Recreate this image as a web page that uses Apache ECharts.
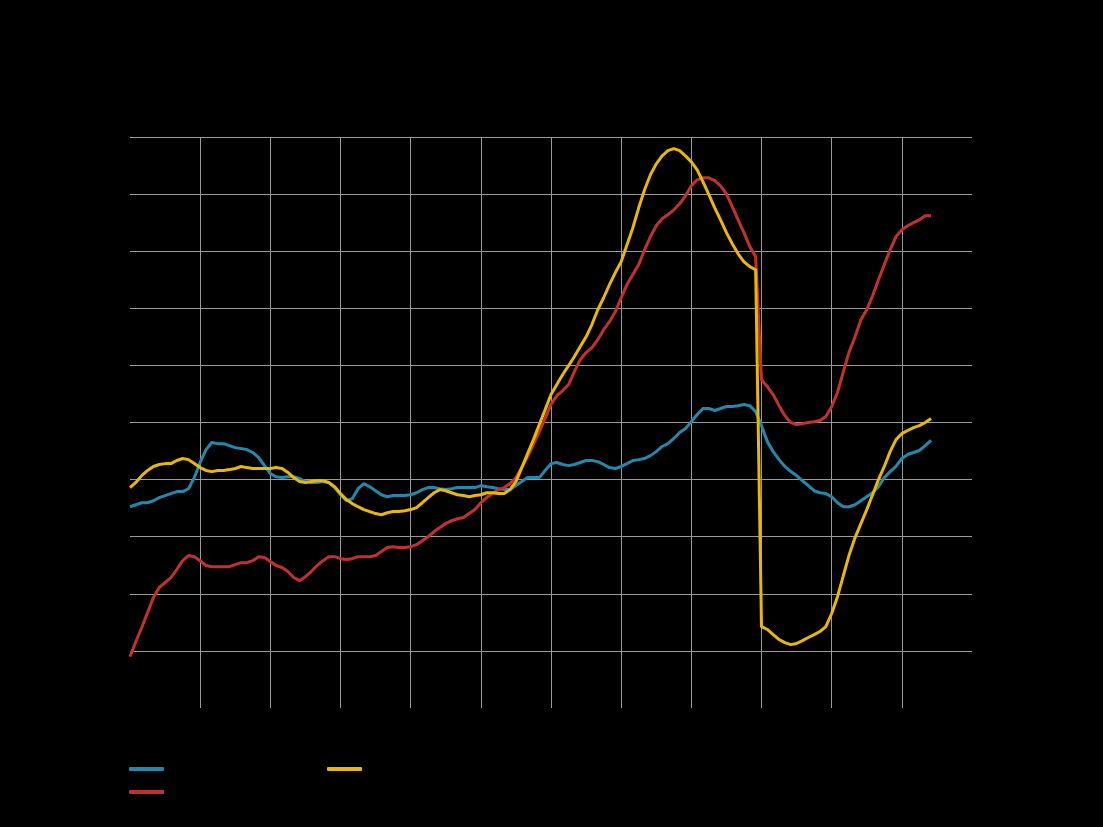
<!DOCTYPE html>
<html>
<head>
<meta charset="utf-8">
<script src="https://cdn.jsdelivr.net/npm/echarts@6/dist/echarts.min.js"></script>
<style>
html,body{margin:0;padding:0;background:#000;}
#chart{width:1103px;height:827px;}
</style>
</head>
<body>
<div id="chart"></div>
<script>
// Monthly observations, index 0 = first month on the x axis
const yearLabels = ['2013','2014','2015','2016','2017','2018','2019','2020','2021','2022','2023','2024','2025'];
const seriesNames = ['Series A', 'Series B', 'Series C'];

const blueValues = [
-0.95,-0.88,-0.81,-0.81,-0.74,-0.63,-0.56,-0.49,-0.42,-0.42,-0.32,0.07,
0.6,1.05,1.3,1.26,1.26,1.19,1.12,1.09,1.05,0.95,0.77,0.49,
0.21,0.1,0.07,0.1,0.1,0.04,-0.07,-0.1,-0.1,-0.07,-0.1,-0.28,
-0.53,-0.74,-0.67,-0.32,-0.14,-0.25,-0.39,-0.53,-0.6,-0.56,-0.56,-0.56,
-0.53,-0.46,-0.35,-0.28,-0.28,-0.32,-0.35,-0.32,-0.28,-0.28,-0.28,-0.28,
-0.21,-0.25,-0.28,-0.32,-0.35,-0.35,-0.21,-0.07,0.07,0.07,0.07,0.32,
0.56,0.6,0.53,0.49,0.53,0.6,0.67,0.67,0.63,0.53,0.42,0.39,
0.46,0.56,0.67,0.7,0.74,0.84,0.98,1.16,1.26,1.44,1.65,1.79,
2.03,2.28,2.49,2.49,2.42,2.49,2.56,2.56,2.59,2.63,2.59,2.38,
1.89,1.33,0.98,0.7,0.46,0.28,0.14,-0.04,-0.21,-0.39,-0.46,-0.49,
-0.6,-0.81,-0.95,-0.95,-0.88,-0.74,-0.6,-0.46,-0.25,0.07,0.28,0.46,
0.74,0.88,0.95,1.02,1.19,1.37
];

const redValues = [
-6.2,-5.67,-5.18,-4.66,-4.13,-3.78,-3.61,-3.43,-3.15,-2.84,-2.66,-2.7,
-2.84,-3.01,-3.05,-3.05,-3.05,-3.05,-2.98,-2.91,-2.91,-2.84,-2.7,-2.73,
-2.87,-3.01,-3.08,-3.22,-3.43,-3.54,-3.4,-3.22,-3.01,-2.84,-2.7,-2.7,
-2.77,-2.8,-2.77,-2.7,-2.7,-2.7,-2.66,-2.52,-2.38,-2.35,-2.38,-2.38,
-2.35,-2.28,-2.14,-2.0,-1.82,-1.68,-1.54,-1.44,-1.37,-1.33,-1.19,-1.05,
-0.81,-0.63,-0.49,-0.35,-0.28,-0.14,0.07,0.42,0.81,1.23,1.68,2.14,
2.63,2.94,3.12,3.33,3.78,4.2,4.45,4.62,4.9,5.25,5.53,5.88,
6.37,6.83,7.18,7.53,8.05,8.51,8.89,9.14,9.28,9.45,9.66,9.94,
10.29,10.5,10.57,10.57,10.47,10.29,10.01,9.56,9.1,8.65,8.16,7.81,
3.5,3.26,2.98,2.59,2.24,2.0,1.93,1.96,2.0,2.03,2.07,2.21,
2.56,3.05,3.78,4.48,5.0,5.6,5.95,6.44,7.0,7.53,8.05,8.51,
8.75,8.89,9.0,9.1,9.24,9.24
];

const yellowValues = [
-0.28,-0.1,0.14,0.32,0.46,0.53,0.56,0.56,0.67,0.74,0.7,0.56,
0.42,0.32,0.28,0.32,0.32,0.35,0.39,0.46,0.42,0.39,0.39,0.39,
0.39,0.42,0.39,0.25,0.07,-0.07,-0.1,-0.07,-0.04,-0.04,-0.1,-0.25,
-0.49,-0.7,-0.84,-0.95,-1.05,-1.12,-1.19,-1.23,-1.16,-1.12,-1.12,-1.09,
-1.05,-0.98,-0.81,-0.63,-0.46,-0.35,-0.39,-0.46,-0.53,-0.56,-0.6,-0.56,
-0.53,-0.46,-0.46,-0.49,-0.49,-0.35,-0.07,0.42,0.91,1.4,1.93,2.45,
2.98,3.33,3.68,3.99,4.31,4.66,5.0,5.43,5.95,6.37,6.83,7.25,
7.63,8.23,8.82,9.52,10.15,10.68,11.06,11.34,11.52,11.59,11.52,11.34,
11.13,10.85,10.43,9.98,9.52,9.1,8.65,8.26,7.91,7.63,7.46,7.35,
-5.15,-5.25,-5.43,-5.6,-5.71,-5.78,-5.74,-5.64,-5.53,-5.43,-5.32,-5.15,
-4.69,-4.1,-3.36,-2.63,-2.03,-1.54,-1.05,-0.53,0,0.46,0.98,1.4,
1.61,1.72,1.82,1.89,2.0,2.14
];

const colors = ['#2388ab', '#c3312e', '#eab800'];

const toPairs = arr => arr.map((v, i) => [i, v]);

const chart = echarts.init(document.getElementById('chart'), null, {renderer: 'canvas'});
const option = {
  backgroundColor: '#000000',
  animation: false,
  grid: {left: 130, right: 131, top: 137, bottom: 119, containLabel: false},
  xAxis: {
    type: 'value', min: 0, max: 144, interval: 12,
    axisLine: {show: false},
    axisTick: {show: false},
    axisLabel: {color: '#000000', fontFamily: 'Lato', fontSize: 14,
      formatter: v => yearLabels[v / 12] || ''},
    splitLine: {show: true, showMinLine: false, showMaxLine: false,
      lineStyle: {color: '#9a9a9a', width: 1}}
  },
  yAxis: {
    type: 'value', min: -8, max: 12, interval: 2,
    axisLine: {show: false},
    axisTick: {show: false},
    axisLabel: {color: '#000000', fontFamily: 'Lato', fontSize: 14},
    splitLine: {show: true, showMinLine: false,
      lineStyle: {color: '#9a9a9a', width: 1}}
  },
  legend: [
    {
      data: [seriesNames[0], seriesNames[1]],
      orient: 'vertical', left: 124, top: 757,
      icon: 'roundRect', itemWidth: 35, itemHeight: 4, itemGap: 9,
      textStyle: {color: '#000000', fontFamily: 'Lato', fontSize: 14, lineHeight: 14}
    },
    {
      data: [seriesNames[2]],
      orient: 'vertical', left: 322, top: 757,
      icon: 'roundRect', itemWidth: 35, itemHeight: 4, itemGap: 9,
      textStyle: {color: '#000000', fontFamily: 'Lato', fontSize: 14, lineHeight: 14}
    }
  ],
  series: [
    {name: seriesNames[0], type: 'line', data: toPairs(blueValues), symbol: 'none',
      color: colors[0], lineStyle: {width: 3, color: colors[0]}, z: 2},
    {name: seriesNames[1], type: 'line', data: toPairs(redValues), symbol: 'none',
      color: colors[1], lineStyle: {width: 3, color: colors[1]}, z: 3},
    {name: seriesNames[2], type: 'line', data: toPairs(yellowValues), symbol: 'none',
      color: colors[2], lineStyle: {width: 3, color: colors[2]}, z: 4}
  ]
};
chart.setOption(option);
</script>
</body>
</html>
